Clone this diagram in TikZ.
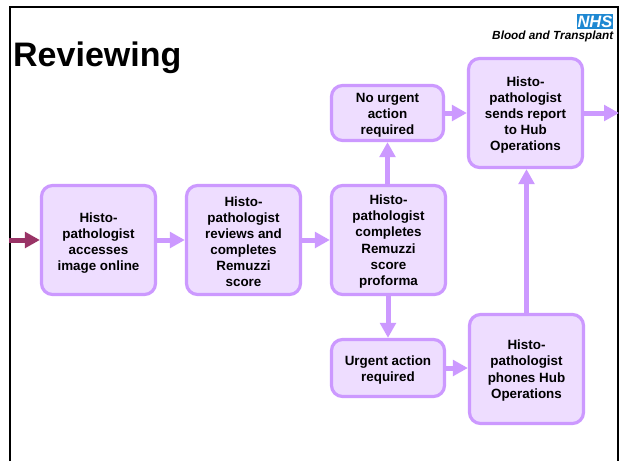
\documentclass[tikz,border=0pt]{standalone}
\usepackage{fontspec}
\setmainfont{Liberation Sans}
\usetikzlibrary{arrows.meta}
\definecolor{lilac}{HTML}{CC99FF}
\definecolor{lilacfill}{HTML}{EEDDFF}
\definecolor{plum}{HTML}{993366}
\definecolor{nhsblue}{HTML}{1E88D2}
\tikzset{
  x=1pt,y=-1pt,
  flowbox/.style={draw=lilac,fill=lilacfill,line width=3.2pt,rounded corners=11pt,inner sep=0pt},
  flowtext/.style={align=center,inner sep=0pt,font=\fontsize{13.4}{16.1}\selectfont\bfseries},
  flowarrow/.style={draw=lilac,line width=5pt,-{Triangle[width=15.5pt,length=15pt]}},
  inarrow/.style={flowarrow,draw=plum},
  frameline/.style={draw=black,line width=2pt}
}
\newcommand{\boxat}[7]{\node[flowbox,minimum width=#4 pt,minimum height=#5 pt,
  label={[flowtext,yshift=#6 pt]center:{#7}}] (#1) at (#2,#3) {};}
\begin{document}
\begin{tikzpicture}
\useasboundingbox (0,0) rectangle (619,461);
\fill[white] (0,0) rectangle (619,461);
\coordinate (tl) at (9.5,461);
\coordinate (tc) at (9.5,7);
\coordinate (tr) at (618,7);
\coordinate (br) at (618,461);
\draw[frameline] (tl) -- (tc) -- (tr) -- (br);
\node[anchor=west,inner sep=0pt,font=\fontsize{34}{38}\selectfont\bfseries] (title) at (13,58) {Reviewing};
\node[fill=nhsblue,text=white,inner sep=0pt,minimum width=36pt,minimum height=15pt,text height=11.5pt,text depth=0pt,font=\fontsize{16.5}{16.5}\selectfont\bfseries\itshape] (nhs) at (595,21.5) {NHS};
\node[anchor=east,inner sep=0pt,font=\fontsize{11.8}{12}\selectfont\bfseries\itshape] (bt) at (613.5,36) {Blood and Transplant};
\boxat{a}{98.5}{240}{114}{109}{-3}{Histo-\\pathologist\\accesses\\image online}
\boxat{b}{243.5}{240}{114}{109}{-1.5}{Histo-\\pathologist\\reviews and\\completes\\Remuzzi\\score}
\boxat{c}{388.5}{240}{114}{109}{-1.5}{Histo-\\pathologist\\completes\\Remuzzi\\score\\proforma}
\boxat{d}{387.5}{113}{112}{55}{-2}{No urgent\\action\\required}
\boxat{e}{525.5}{113}{114}{109}{-2}{Histo-\\pathologist\\sends report\\to Hub\\Operations}
\boxat{f}{388}{368}{113}{57}{-2}{Urgent action\\required}
\boxat{g}{526.5}{369}{114}{109}{-1.5}{Histo-\\pathologist\\phones Hub\\Operations}
\coordinate (inL) at (9,240);
\coordinate (outR) at (619,113);
\draw[inarrow] (inL) -- (a.west);
\draw[flowarrow] (a.east) -- (b.west);
\draw[flowarrow] (b.east) -- (c.west);
\draw[flowarrow] (c.north -| d.south) -- (d.south);
\draw[flowarrow] (c.south -| f.north) -- (f.north);
\draw[flowarrow] (d.east) -- (e.west);
\draw[flowarrow] (e.east) -- (outR);
\draw[flowarrow] (f.east) -- (f.east -| g.west);
\draw[flowarrow] (g.north) -- (e.south -| g.north);
\end{tikzpicture}
\end{document}
